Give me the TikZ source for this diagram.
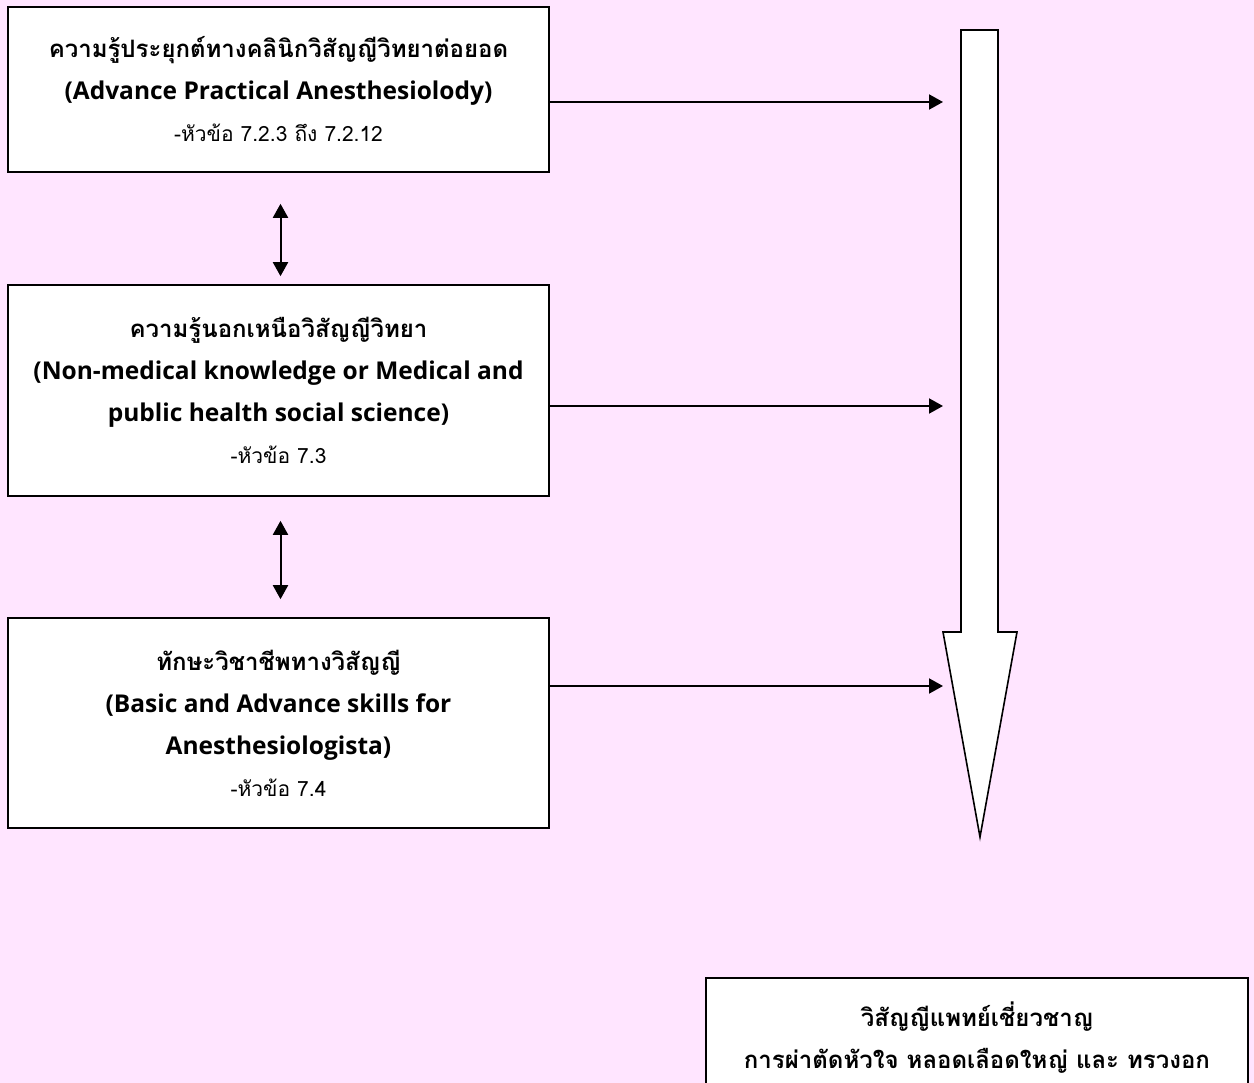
\documentclass[tikz,border=0pt]{standalone}
\usepackage{fontspec}
\setmainfont[Script=Thai]{Loma}
\newfontfamily\latinfont{Open Sans}
\usetikzlibrary{arrows.meta,calc}
\definecolor{bgpink}{RGB}{255,229,255}
% line styles used inside the boxes
\newcommand{\thaihead}[1]{{\bfseries\fontsize{24}{42}\selectfont #1}}
\newcommand{\enghead}[1]{{\latinfont\bfseries\fontsize{24.5}{42}\selectfont #1}}
\newcommand{\topicref}[1]{{\fontsize{21}{42}\selectfont #1}}
\begin{document}
\begin{tikzpicture}[x=1pt,y=-1pt,
  box/.style={draw=black, line width=1.6pt, fill=white, minimum width=541pt,
              align=center, inner sep=0pt, font=\fontsize{21}{42}\selectfont},
  link/.style={line width=2pt, -{Triangle[length=14pt,width=15pt]}},
  dbl/.style={line width=2pt, {Triangle[length=14pt,width=15pt]}-{Triangle[length=14pt,width=15pt]}},
  bigarrow/.style={draw=black, line width=1.6pt, fill=white, line join=miter}]
\fill[bgpink] (0,0) rectangle (1254,1083);
\useasboundingbox (0,0) rectangle (1254,1083);
\clip (0,0) rectangle (1254,1083);

% the three knowledge boxes on the left
\node[box, minimum height=165pt] (b1) at (278.5,89.5)
  {\thaihead{ความรู้ประยุกต์ทางคลินิกวิสัญญีวิทยาต่อยอด}\\
   \enghead{(Advance Practical Anesthesiolody)}\\
   \topicref{-หัวข้อ 7.2.3 ถึง 7.2.12}};
\node[box, minimum height=211pt] (b2) at (278.5,390.5)
  {\thaihead{ความรู้นอกเหนือวิสัญญีวิทยา}\\
   \enghead{(Non-medical knowledge or Medical and}\\
   \enghead{public health social science)}\\
   \topicref{-หัวข้อ 7.3}};
\node[box, minimum height=210pt] (b3) at (278.5,723)
  {\thaihead{ทักษะวิชาชีพทางวิสัญญี}\\
   \enghead{(Basic and Advance skills for}\\
   \enghead{Anesthesiologista)}\\
   \topicref{-หัวข้อ 7.4}};

% result box at the bottom right
\node[box, minimum width=542pt, minimum height=120pt, anchor=north] (b4) at (977,977)
  {\thaihead{วิสัญญีแพทย์เชี่ยวชาญ}\\
   \thaihead{การผ่าตัดหัวใจ หลอดเลือดใหญ่ และ ทรวงอก}};

% large block arrow leading down
\path[bigarrow] (961,30) -- (998,30) -- (998,632) -- (1017,632)
  -- (980,837) -- (943,632) -- (961,632) -- cycle;
\coordinate (t1) at (943,102);
\coordinate (t2) at (943,406);
\coordinate (t3) at (943,686);

% feeds into the block arrow
\draw[link] (b1.east |- t1) -- (t1);
\draw[link] (b2.east |- t2) -- (t2);
\draw[link] (b3.east |- t3) -- (t3);

% links between neighbouring boxes
\coordinate (d1a) at ($(b1.south)+(2,31)$);
\coordinate (d1b) at ($(b2.north)+(2,-8)$);
\coordinate (d2a) at ($(b2.south)+(2,24)$);
\coordinate (d2b) at ($(b3.north)+(2,-18)$);
\draw[dbl] (d1a) -- (d1b);
\draw[dbl] (d2a) -- (d2b);
\end{tikzpicture}
\end{document}
